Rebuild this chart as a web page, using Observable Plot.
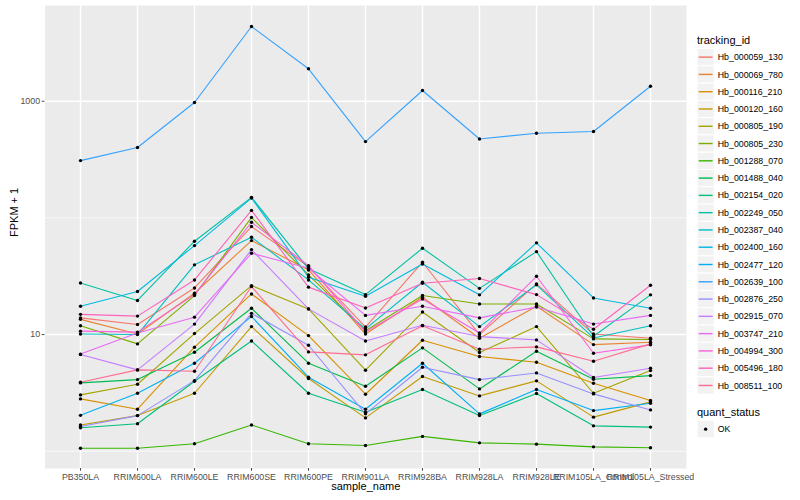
<!DOCTYPE html>
<html><head><meta charset="utf-8">
<script src="https://cdn.jsdelivr.net/npm/d3@7"></script>
<script src="https://cdn.jsdelivr.net/npm/@observablehq/plot@0.6"></script>
<style>
body{margin:0;background:#fff;}
#wrap{position:relative;width:800px;height:500px;font-family:"Liberation Sans",Arial,sans-serif;}
#wrap svg{position:absolute;left:0;top:0;}
</style></head><body><div id="wrap"></div>
<script>
const samples = ["PB350LA","RRIM600LA","RRIM600LE","RRIM600SE","RRIM600PE","RRIM901LA","RRIM928BA","RRIM928LA","RRIM928LE","RRIM105LA_Control","RRIM105LA_Stressed"];
const trackingIds = ["Hb_000059_130","Hb_000069_780","Hb_000116_210","Hb_000120_160","Hb_000805_190","Hb_000805_230","Hb_001288_070","Hb_001488_040","Hb_002154_020","Hb_002249_050","Hb_002387_040","Hb_002400_160","Hb_002477_120","Hb_002639_100","Hb_002876_250","Hb_002915_070","Hb_003747_210","Hb_004994_300","Hb_005496_180","Hb_008511_100"];
const quantStatus = ["OK"];
const yTicks = [10, 1000];

// FPKM + 1 per sample, one array per tracking id
const Hb_000059_130 = [13.9, 12.2, 25.1, 84.3, 38.3, 11.6, 41.7, 10.0, 27.2, 10.1, 9.3];
const Hb_000069_780 = [13.5, 10.1, 22.6, 63.9, 35.8, 10.1, 20.9, 9.3, 17.5, 8.2, 8.6];
const Hb_000116_210 = [2.81, 2.29, 7.79, 22.3, 9.8, 3.08, 8.94, 6.48, 5.79, 3.83, 2.72];
const Hb_000120_160 = [1.68, 2.02, 3.14, 11.7, 4.2, 1.93, 4.37, 2.98, 4.01, 1.96, 2.65];
const Hb_000805_190 = [3.04, 3.75, 10.2, 26.3, 16.6, 4.95, 15.6, 7.01, 11.7, 3.14, 4.91];
const Hb_000805_230 = [11.9, 8.32, 21.6, 101, 32.5, 10.8, 21.6, 18.3, 18.3, 9.18, 9.06];
const Hb_001288_070 = [1.06, 1.06, 1.16, 1.68, 1.16, 1.12, 1.34, 1.18, 1.15, 1.09, 1.07];
const Hb_001488_040 = [3.85, 4.11, 7.06, 16.8, 5.68, 3.61, 7.69, 3.42, 7.2, 4.14, 4.45];
const Hb_002154_020 = [1.59, 1.72, 3.98, 8.82, 3.14, 2.16, 3.38, 2.02, 3.12, 1.65, 1.61];
const Hb_002249_050 = [27.7, 19.6, 63.1, 150, 36.6, 22.0, 55.0, 24.9, 51.4, 9.68, 21.9];
const Hb_002387_040 = [10.1, 10.0, 39.6, 68.3, 29.4, 11.2, 28.1, 11.7, 26.7, 9.36, 11.9];
const Hb_002400_160 = [17.5, 23.4, 57.9, 148, 31.0, 21.3, 40.3, 21.9, 61.1, 20.6, 16.8];
const Hb_002477_120 = [2.03, 3.14, 5.68, 14.3, 4.31, 2.29, 5.68, 2.09, 3.38, 2.23, 2.58];
const Hb_002639_100 = [310, 401, 975, 4375, 1898, 451, 1236, 475, 532, 550, 1345];
const Hb_002876_250 = [1.63, 2.02, 4.03, 15.2, 8.1, 2.09, 5.25, 4.11, 4.69, 3.1, 2.26];
const Hb_002915_070 = [6.74, 4.98, 12.3, 53.5, 16.6, 8.82, 12.0, 9.61, 9.0, 4.28, 5.14];
const Hb_003747_210 = [6.8, 10.3, 14.1, 49.8, 37.0, 14.6, 17.5, 13.9, 17.2, 12.3, 14.6];
const Hb_004994_300 = [10.7, 10.5, 22.0, 91.8, 39.0, 10.5, 20.2, 10.3, 31.6, 6.92, 8.16];
const Hb_005496_180 = [14.9, 14.4, 29.4, 116, 25.5, 16.9, 27.5, 30.2, 22.0, 11.1, 26.5];
const Hb_008511_100 = [3.9, 4.98, 4.85, 25.8, 7.1, 6.7, 11.9, 7.49, 7.84, 5.91, 8.32];

const seriesValues = [Hb_000059_130, Hb_000069_780, Hb_000116_210, Hb_000120_160, Hb_000805_190, Hb_000805_230, Hb_001288_070, Hb_001488_040, Hb_002154_020, Hb_002249_050, Hb_002387_040, Hb_002400_160, Hb_002477_120, Hb_002639_100, Hb_002876_250, Hb_002915_070, Hb_003747_210, Hb_004994_300, Hb_005496_180, Hb_008511_100];

// ggplot2 hue palette for 20 levels
const palette = ["#F8766D","#EA8331","#D89000","#C09B00","#A3A500","#7CAE00","#39B600","#00BB4E","#00BF7D","#00C1A3","#00BFC4","#00BAE0","#00B0F6","#35A2FF","#9590FF","#C77CFF","#E76BF3","#FA62DB","#FF62BC","#FF6C91"];

const data = [];
trackingIds.forEach((id, i) => seriesValues[i].forEach((v, j) => data.push({id, sample: samples[j], value: v, status: quantStatus[0]})));

const font = "Liberation Sans, Arial, sans-serif";
const chart = Plot.plot({
  width: 800, height: 500,
  marginLeft: 44.5, marginRight: 114, marginTop: 5, marginBottom: 32,
  style: {fontFamily: font, background: "transparent", overflow: "visible"},
  x: {type: "point", domain: samples, padding: 0.6},
  y: {type: "log", domain: [0.711, 6620]},
  color: {domain: trackingIds, range: palette},
  marks: [
    Plot.frame({fill: "#EBEBEB", stroke: null}),
    Plot.gridY([1, 100], {stroke: "white", strokeOpacity: 1, strokeWidth: 0.71}),
    Plot.gridY(yTicks, {stroke: "white", strokeOpacity: 1, strokeWidth: 1.42}),
    Plot.gridX(samples, {stroke: "white", strokeOpacity: 1, strokeWidth: 1.42}),
    Plot.axisY(yTicks, {tickFormat: d => String(d), tickSize: 2.75, tickPadding: 2.2, fontSize: 8.8, color: "#4D4D4D", label: null}),
    Plot.axisX(samples, {tickSize: 2.75, tickPadding: 2.2, fontSize: 8.8, color: "#4D4D4D", label: null}),
    Plot.line(data, {x: "sample", y: "value", z: "id", stroke: "id", strokeWidth: 1.1}),
    Plot.dot(data, {x: "sample", y: "value", r: 1.7, fill: "black", stroke: null}),
    Plot.text(["sample_name"], {frameAnchor: "bottom", dy: 21.5, fontSize: 11, fill: "black"}),
    Plot.text(["FPKM + 1"], {frameAnchor: "left", dx: -31, rotate: -90, fontSize: 11, fill: "black"})
  ]
});
const wrap = document.getElementById("wrap");
wrap.appendChild(chart);

// legend
const svg = d3.select(wrap).append("svg").attr("width", 800).attr("height", 500)
  .style("font-family", font).style("pointer-events", "none");
const lx = 697, step = 17.28, top0 = 48.5;
svg.append("text").attr("x", lx).attr("y", 43.5).attr("font-size", 11).attr("fill", "black").text("tracking_id");
trackingIds.forEach((id, i) => {
  const y = top0 + i * step;
  svg.append("rect").attr("x", lx).attr("y", y).attr("width", step).attr("height", step)
    .attr("fill", "#F2F2F2").attr("stroke", "white").attr("stroke-width", 1);
  svg.append("line").attr("x1", lx + 1.7).attr("x2", lx + step - 1.7).attr("y1", y + step / 2).attr("y2", y + step / 2)
    .attr("stroke", palette[i]).attr("stroke-width", 1.42);
  svg.append("text").attr("x", lx + step + 3.5).attr("y", y + step / 2).attr("dy", "0.35em")
    .attr("font-size", 8.8).attr("fill", "black").text(id);
});
svg.append("text").attr("x", lx).attr("y", 415.5).attr("font-size", 11).attr("fill", "black").text("quant_status");
quantStatus.forEach((s, i) => {
  const y = 420.5 + i * step;
  svg.append("rect").attr("x", lx).attr("y", y).attr("width", step).attr("height", step)
    .attr("fill", "#F2F2F2").attr("stroke", "white").attr("stroke-width", 1);
  svg.append("circle").attr("cx", lx + step / 2).attr("cy", y + step / 2).attr("r", 1.7).attr("fill", "black");
  svg.append("text").attr("x", lx + step + 3.5).attr("y", y + step / 2).attr("dy", "0.35em")
    .attr("font-size", 8.8).attr("fill", "black").text(s);
});
</script></body></html>
